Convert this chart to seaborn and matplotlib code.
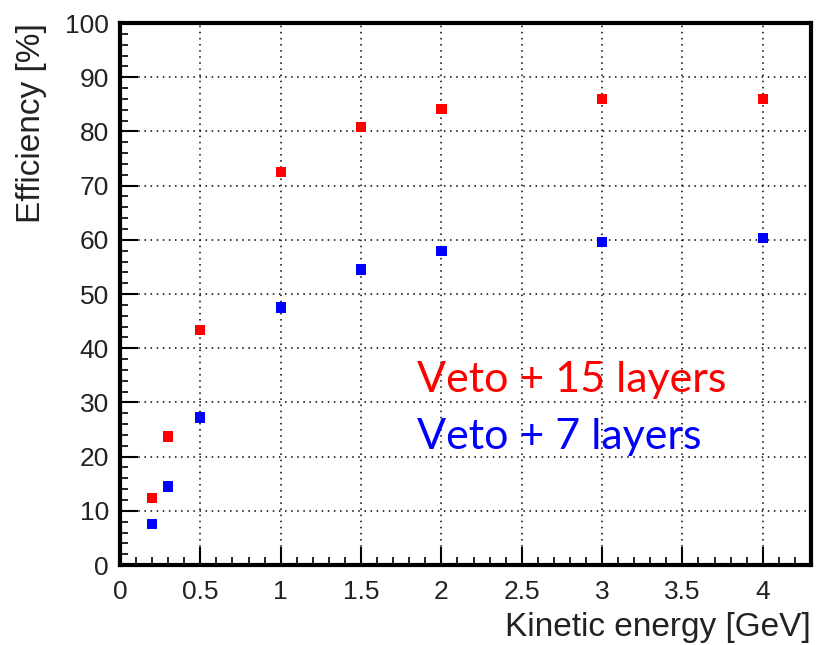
import numpy as np
import pandas as pd
import matplotlib
matplotlib.use("Agg")
import matplotlib.pyplot as plt
import seaborn as sns
from matplotlib.ticker import MultipleLocator

# DATA

energy = [0.2, 0.3, 0.5, 1.0, 1.5, 2.0, 3.0, 4.0]
eff_15_layers = [12.4, 23.7, 43.3, 72.5, 80.8, 84.1, 86.0, 86.0]
eff_7_layers = [7.6, 14.5, 27.2, 47.5, 54.5, 57.9, 59.6, 60.4]
series_names = ["Veto + 15 layers", "Veto + 7 layers"]
series_colors = ["#ff0000", "#0000ff"]

df = pd.DataFrame({
    "energy": energy * 2,
    "efficiency": eff_15_layers + eff_7_layers,
    "setup": [series_names[0]] * len(energy) + [series_names[1]] * len(energy)
})

# PLOT

sns.set_style("ticks")
plt.rcParams["font.family"] = ["Liberation Sans", "DejaVu Sans"]

fig = plt.figure(figsize=(8.2, 6.45), dpi=100)
ax = fig.add_axes([0.1463, 0.124, 0.8427, 0.8403])

sns.scatterplot(
    data=df,
    x="energy",
    y="efficiency",
    hue="setup",
    palette=dict(zip(series_names, series_colors)),
    marker="s",
    s=55,
    edgecolor="none",
    legend=False,
    ax=ax,
    zorder=3
)

ax.set_xlim(0, 4.3)
ax.set_ylim(0, 100)

ax.xaxis.set_major_locator(MultipleLocator(0.5))
ax.xaxis.set_minor_locator(MultipleLocator(0.1))
ax.yaxis.set_major_locator(MultipleLocator(10))
ax.yaxis.set_minor_locator(MultipleLocator(2))
ax.xaxis.set_major_formatter(plt.FuncFormatter(lambda v, p: f"{v:g}"))

ax.tick_params(which="both", direction="in", top=False, right=False,
               labelsize=19, color="black", labelcolor="#222222")
ax.tick_params(which="major", length=13, width=1.5)
ax.tick_params(axis="x", which="major", pad=11)
ax.tick_params(axis="y", which="major", pad=8)
ax.tick_params(which="minor", length=6, width=1.2)

ax.grid(True, which="major", linestyle=(0, (1, 3)), color="black", linewidth=1.1)

for side in ["left", "bottom", "top", "right"]:
    ax.spines[side].set_linewidth(3)
    ax.spines[side].set_color("black")

ax.set_xlabel("Kinetic energy [GeV]", fontsize=24, color="#222222")
ax.set_ylabel("Efficiency [%]", fontsize=24, color="#222222")
ax.xaxis.set_label_coords(1.0, -0.087)
ax.xaxis.label.set_horizontalalignment("right")
ax.yaxis.set_label_coords(-0.106, 1.0)
ax.yaxis.label.set_verticalalignment("bottom")
ax.yaxis.label.set_horizontalalignment("right")

# LEGEND TEXT

ax.text(1.85, 34.2, series_names[0], color=series_colors[0],
        fontsize=31, family=["Lato", "DejaVu Sans"], va="center", ha="left")
ax.text(1.85, 23.7, series_names[1], color=series_colors[1],
        fontsize=31, family=["Lato", "DejaVu Sans"], va="center", ha="left")

fig.savefig("out.png", dpi=100, facecolor="white")
